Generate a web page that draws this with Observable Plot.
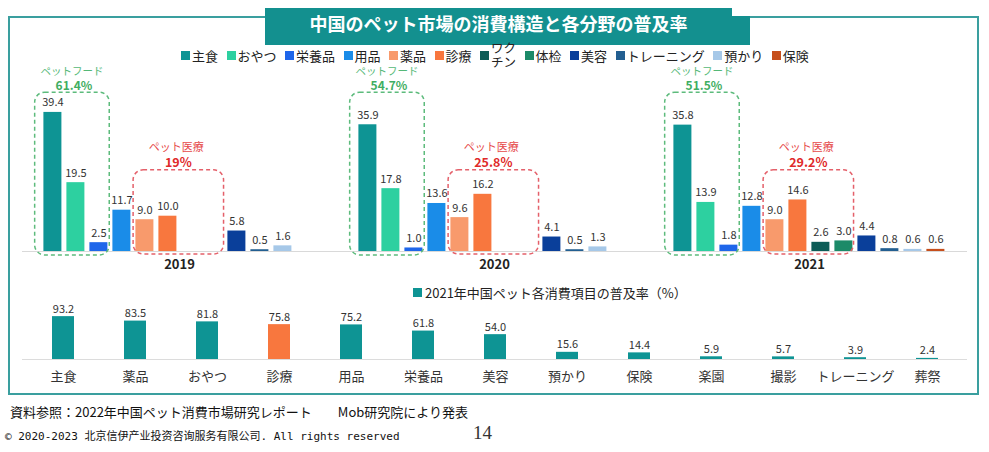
<!DOCTYPE html>
<html><head><meta charset="utf-8">
<script src="https://cdn.jsdelivr.net/npm/d3@7"></script>
<script src="https://cdn.jsdelivr.net/npm/@observablehq/plot@0.6"></script>
<style>
body{margin:0;background:#fff;width:989px;height:452px;position:relative;overflow:hidden;font-family:"Noto Sans CJK JP","Noto Sans",sans-serif;color:#222;}
.abs{position:absolute;}
#frame{left:8px;top:16px;width:971px;height:379px;border:2px solid #3a9f9f;box-sizing:border-box;}
.ban{background:#13908f;}
#title{left:265px;top:8px;width:467px;height:30px;line-height:30px;text-align:center;color:#fff;font-weight:bold;font-size:18px;}
#legend{left:181px;top:46px;height:18px;display:flex;align-items:center;gap:8.5px;font-size:13px;line-height:13px;color:#222;white-space:nowrap;}
#legend .it{display:flex;align-items:center;}
#legend .sw{width:9px;height:9px;margin-right:2px;display:inline-block;}
#legend .two{display:inline-block;width:2em;white-space:normal;line-height:14px;font-size:12.5px;}
#blegend{left:413px;top:283px;font-size:13px;color:#222;display:flex;align-items:center;white-space:nowrap;}
#blegend .sw{width:9px;height:9px;margin-right:3px;display:inline-block;}
#src{left:10px;top:402px;font-size:13px;color:#111;white-space:pre;}
#copy{left:5px;top:427px;font-size:11px;color:#111;font-family:"DejaVu Sans Mono","Noto Sans CJK SC",monospace;white-space:pre;}
#page{left:473px;top:422px;font-size:19px;color:#333;font-family:"Liberation Serif","DejaVu Serif",serif;}
</style></head>
<body>
<div id="frame" class="abs"></div>
<div class="abs ban" style="left:265px;top:8px;width:467px;height:37px;"></div>
<div class="abs ban" style="left:265px;top:16px;width:485px;height:29px;"></div>
<div id="title" class="abs">中国のペット市場の消費構造と各分野の普及率</div>
<div id="legend" class="abs"></div>
<div id="topchart" class="abs" style="left:0;top:60px;"></div>
<div id="blegend" class="abs"></div>
<div id="bottomchart" class="abs" style="left:0;top:285px;"></div>
<div id="src" class="abs">資料参照：2022年中国ペット消費市場研究レポート　　Mob研究院により発表</div>
<div id="copy" class="abs">© 2020-2023 北京信伊产业投资咨询服务有限公司. All rights reserved</div>
<div id="page" class="abs">14</div>
<script>
// ---------- data ----------
const years = ["2019", "2020", "2021"];
const categories = ["主食", "おやつ", "栄養品", "用品", "薬品", "診療", "ワクチン", "体检", "美容", "トレーニング", "預かり", "保険"];
const categoryColors = ["#0e9494", "#2dd0a0", "#1f66ea", "#1a8ce8", "#f89a6c", "#f8773e", "#0d5c57", "#1c8a68", "#0a3f9a", "#235f91", "#a6c8e8", "#c64f1c"];
const values2019 = [39.4, 19.5, 2.5, 11.7, 9.0, 10.0, null, null, 5.8, 0.5, 1.6, null];
const values2020 = [35.9, 17.8, 1.0, 13.6, 9.6, 16.2, null, null, 4.1, 0.5, 1.3, null];
const values2021 = [35.8, 13.9, 1.8, 12.8, 9.0, 14.6, 2.6, 3.0, 4.4, 0.8, 0.6, 0.6];
const foodLabel = "ペットフード";
const foodShare = ["61.4%", "54.7%", "51.5%"];
const medLabel = "ペット医療";
const medShare = ["19%", "25.8%", "29.2%"];
const bottomTitle = "2021年中国ペット各消費項目の普及率（%）";
const bottomCats = ["主食", "薬品", "おやつ", "診療", "用品", "栄養品", "美容", "預かり", "保険", "楽園", "撮影", "トレーニング", "葬祭"];
const bottomVals = [93.2, 83.5, 81.8, 75.8, 75.2, 61.8, 54.0, 15.6, 14.4, 5.9, 5.7, 3.9, 2.4];
const bottomHighlight = "診療";

const FONT = '"Noto Sans CJK JP","Noto Sans",sans-serif';
const TEAL = "#0e9494", ORANGE = "#f8773e";

// ---------- legend ----------
const leg = document.getElementById("legend");
categories.forEach((c, i) => {
  const it = document.createElement("span"); it.className = "it";
  const sw = document.createElement("span"); sw.className = "sw"; sw.style.background = categoryColors[i];
  const tx = document.createElement("span"); tx.textContent = c;
  if (c === "ワクチン") tx.className = "two";
  it.appendChild(sw); it.appendChild(tx); leg.appendChild(it);
});
const bl = document.getElementById("blegend");
bl.innerHTML = `<span class="sw" style="background:${TEAL}"></span><span>${bottomTitle}</span>`;

// ---------- top chart ----------
const rows = [];
[values2019, values2020, values2021].forEach((vals, i) => {
  categories.forEach((c, j) => { if (vals[j] != null) rows.push({year: years[i], cat: c, value: vals[j]}); });
});

const topPlot = Plot.plot({
  width: 989, height: 220,
  marginLeft: 35.6, marginRight: 36.4, marginTop: 14.5, marginBottom: 29,
  fx: {domain: years, paddingInner: 0.0935, paddingOuter: 0, axis: null},
  x: {domain: categories, padding: 0.23, axis: null},
  y: {domain: [0, 50], axis: null},
  color: {domain: categories, range: categoryColors},
  style: {fontFamily: FONT, background: "transparent", overflow: "visible", color: "#333"},
  marks: [
    Plot.barY(rows, {fx: "year", x: "cat", y: "value", fill: "cat"}),
    Plot.text(rows, {fx: "year", x: "cat", y: "value", text: d => d.value.toFixed(1), lineAnchor: "bottom", dy: -6, fontSize: 11, fill: "#333"}),
    Plot.text(years, {fx: d => d, text: d => d, frameAnchor: "bottom", dy: 17, fontWeight: "bold", fontSize: 13, fill: "#222"})
  ]
});
document.getElementById("topchart").appendChild(topPlot);

(function overlay() {
  const fx = topPlot.scale("fx"), x = topPlot.scale("x"), y = topPlot.scale("y");
  const svg = d3.select(topPlot);
  const bw = x.bandwidth, st = x.step;
  const x0 = x.range[0];
  const X = (yr, c) => fx.apply(yr) + x.apply(c) - x0;
  const y0 = y.apply(0);
  svg.insert("line", ":first-child")
    .attr("x1", 22).attr("x2", 967).attr("y1", y0 + 0.5).attr("y2", y0 + 0.5)
    .attr("stroke", "#d9d9d9").attr("stroke-width", 1);
  const g = svg.append("g").attr("font-family", FONT).attr("text-anchor", "middle");
  years.forEach((yr, i) => {
    // food box
    const fx1 = X(yr, "主食") - 0.38 * st, fx2 = X(yr, "栄養品") + bw + 0.08 * st;
    const fTop = y.apply(45), bot = y0 + 4;
    g.append("rect").attr("x", fx1).attr("y", fTop).attr("width", fx2 - fx1).attr("height", bot - fTop)
      .attr("rx", 10).attr("fill", "none").attr("stroke", "#5dbb7c").attr("stroke-width", 1.5).attr("stroke-dasharray", "4,3");
    const fc = (fx1 + fx2) / 2;
    g.append("text").attr("x", fc).attr("y", fTop - 20.5).attr("dy", "0.35em").attr("font-size", 10.5).attr("fill", "#55b877").text(foodLabel);
    g.append("text").attr("x", fc + 2).attr("y", fTop - 6).attr("dy", "0.35em").attr("font-size", 12).attr("font-weight", "bold").attr("fill", "#3fae62").text(foodShare[i]);
    // medical box
    const mx1 = X(yr, "薬品") - 0.1 * st, mx2 = X(yr, "体检") + bw + 0.05 * st;
    const mTop = y.apply(23);
    g.append("rect").attr("x", mx1).attr("y", mTop).attr("width", mx2 - mx1).attr("height", bot - 1 - mTop)
      .attr("rx", 10).attr("fill", "none").attr("stroke", "#e4606a").attr("stroke-width", 1.5).attr("stroke-dasharray", "4,3");
    const mc = (mx1 + mx2) / 2;
    g.append("text").attr("x", mc - 2).attr("y", mTop - 23).attr("dy", "0.35em").attr("font-size", 11).attr("fill", "#e64a4a").text(medLabel);
    g.append("text").attr("x", mc).attr("y", mTop - 7).attr("dy", "0.35em").attr("font-size", 12.5).attr("font-weight", "bold").attr("fill", "#e02a2a").text(medShare[i]);
  });
})();

// ---------- bottom chart ----------
const bottomRows = bottomCats.map((c, i) => ({cat: c, value: bottomVals[i]}));
const bottomPlot = Plot.plot({
  width: 989, height: 105,
  marginLeft: 22, marginRight: 22, marginTop: 28, marginBottom: 31,
  x: {domain: bottomCats, paddingInner: 0.7, paddingOuter: 0.36, label: null},
  y: {domain: [0, 100], axis: null},
  color: {type: "identity"},
  style: {fontFamily: FONT, background: "transparent", overflow: "visible", color: "#333"},
  marks: [
    Plot.ruleY([0], {stroke: "#dcdcdc"}),
    Plot.barY(bottomRows, {x: "cat", y: "value", fill: d => d.cat === bottomHighlight ? ORANGE : TEAL}),
    Plot.text(bottomRows, {x: "cat", y: "value", text: d => d.value.toFixed(1), lineAnchor: "bottom", dy: -4, fontSize: 11, fill: "#333"}),
    Plot.axisX({tickSize: 0, tickPadding: 12, fontSize: 13, fill: "#333", label: null})
  ]
});
document.getElementById("bottomchart").appendChild(bottomPlot);
</script>
</body></html>
